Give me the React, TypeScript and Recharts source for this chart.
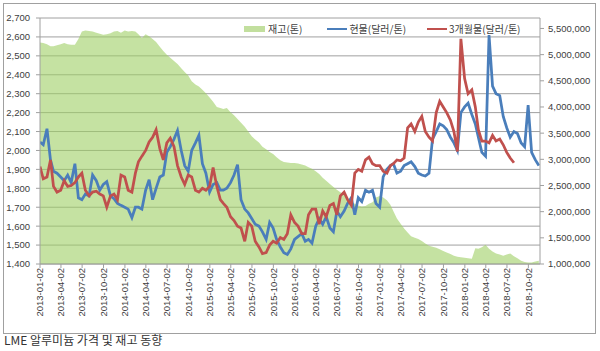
import React from "react";
import { ComposedChart, Area, Line, XAxis, YAxis, CartesianGrid } from "recharts";

// Half-month sample dates, 2013-01 .. 2018-11 (1st and 16th of each month)
const dates: string[] = [];
for (let m = 0; m < 71; m++) {
  const y = 2013 + Math.floor(m / 12);
  const mo = String((m % 12) + 1).padStart(2, "0");
  dates.push(`${y}-${mo}-${m === 0 ? "02" : "01"}`, `${y}-${mo}-16`);
}

// 현물 (USD/t)
const spot = [
  2045, 2030, 2115, 1950, 1890, 1880, 1860, 1840, 1870, 1830, 1930, 1750, 1740, 1770, 1760, 1870, 1840, 1790, 1820, 1835, 1760, 1745, 1720, 1710,
  1700, 1690, 1645, 1700, 1700, 1690, 1790, 1845, 1740, 1800, 1860, 1870, 1990, 2020, 2060, 2105, 2000, 1920, 1890, 2000, 2040, 2080, 1930, 1880,
  1780, 1820, 1830, 1790, 1790, 1800, 1830, 1870, 1925, 1740, 1690, 1670, 1640, 1610, 1600, 1570, 1530, 1620, 1590, 1530, 1490, 1460, 1450, 1480,
  1530, 1545, 1560, 1520, 1530, 1510, 1600, 1640, 1610, 1650, 1590, 1570, 1680, 1650, 1680, 1720, 1750, 1660, 1750, 1730, 1790, 1780, 1790, 1720,
  1700, 1860, 1900, 1920, 1930, 1880, 1890, 1920, 1930, 1940, 1915, 1880, 1870, 1865, 1880, 2060, 2100, 2140, 2130, 2110, 2070, 2040, 2000, 2200,
  2230, 2250, 2190, 2140, 2070, 1990, 1970, 2610, 2340, 2300, 2290, 2180, 2120, 2070, 2100, 2090, 2040, 2020, 2240, 1990, 1950, 1920,
];

// 3개월물 (USD/t)
const threeMonth = [
  1915, 1850, 1860, 1950, 1810, 1780, 1790, 1840, 1810, 1815, 1830, 1860, 1880, 1790, 1760, 1780, 1785, 1770, 1760, 1700, 1760, 1770, 1740, 1870,
  1860, 1790, 1780, 1880, 1940, 1970, 2000, 2045, 2070, 2110, 2010, 1950, 2040, 2065, 2020, 1920, 1860, 1820, 1870, 1860, 1790, 1780, 1800, 1790,
  1810, 1910, 1810, 1740, 1720, 1700, 1650, 1630, 1600, 1590, 1520, 1620, 1600, 1520, 1490, 1455, 1460, 1500, 1520, 1510, 1540, 1530, 1560, 1660,
  1620, 1600, 1560, 1560, 1660, 1690, 1690, 1610, 1680, 1650, 1710, 1720, 1660, 1760, 1780, 1740, 1710, 1880, 1900, 1890, 1950, 1965, 1930, 1920,
  1920, 1890, 1880, 1920, 1930, 1950, 1945, 1960, 2120, 2140, 2100, 2150, 2180, 2100, 2070, 2050, 2200, 2260, 2230, 2200, 2160, 2100, 1995, 2590,
  2380, 2300, 2320, 2230, 2110, 2050, 2050, 2040, 2080, 2050, 2060, 2030, 1990, 1960, 1935, null, null, null, null, null, null, null,
];

// 재고 (t)
const stock = [
  5230000, 5220000, 5200000, 5160000, 5160000, 5180000, 5200000, 5220000, 5200000, 5190000, 5190000, 5300000,
  5440000, 5460000, 5450000, 5440000, 5420000, 5400000, 5380000, 5390000, 5410000, 5440000, 5450000, 5420000,
  5460000, 5440000, 5450000, 5440000, 5390000, 5320000, 5390000, 5350000, 5300000, 5240000, 5150000, 5070000,
  5000000, 4940000, 4880000, 4820000, 4740000, 4670000, 4600000, 4490000, 4430000, 4390000, 4330000, 4260000,
  4180000, 4100000, 4000000, 3980000, 3960000, 3980000, 3900000, 3840000, 3770000, 3700000, 3620000, 3530000,
  3440000, 3380000, 3320000, 3240000, 3190000, 3140000, 3100000, 3040000, 2980000, 2950000, 2940000, 2930000,
  2930000, 2920000, 2900000, 2880000, 2850000, 2820000, 2770000, 2720000, 2650000, 2590000, 2530000, 2470000,
  2420000, 2370000, 2330000, 2260000, 2190000, 2150000, 2120000, 2100000, 2110000, 2150000, 2180000, 2270000,
  2300000, 2270000, 2220000, 2130000, 2010000, 1870000, 1770000, 1680000, 1600000, 1530000, 1500000, 1480000,
  1440000, 1390000, 1350000, 1330000, 1310000, 1280000, 1250000, 1220000, 1190000, 1160000, 1140000, 1130000,
  1120000, 1110000, 1100000, 1300000, 1290000, 1320000, 1370000, 1290000, 1240000, 1200000, 1180000, 1160000,
  1180000, 1200000, 1150000, 1110000, 1060000, 1040000, 1030000, 1030000, 1050000, 1060000,
];

const dateTicks = [
  "2013-01-02", "2013-04-02", "2013-07-02", "2013-10-02",
  "2014-01-02", "2014-04-02", "2014-07-02", "2014-10-02",
  "2015-01-02", "2015-04-02", "2015-07-02", "2015-10-02",
  "2016-01-02", "2016-04-02", "2016-07-02", "2016-10-02",
  "2017-01-02", "2017-04-02", "2017-07-02", "2017-10-02",
  "2018-01-02", "2018-04-02", "2018-07-02", "2018-10-02",
];
const priceTicks = [1400, 1500, 1600, 1700, 1800, 1900, 2000, 2100, 2200, 2300, 2400, 2500, 2600, 2700];
const stockTicks = [1000000, 1500000, 2000000, 2500000, 3000000, 3500000, 4000000, 4500000, 5000000, 5500000];

const toTime = (s: string) => Date.parse(s);

const rows = dates.map((d, i) => ({
  t: toTime(d),
  stock: stock[i],
  spot: spot[i],
  threeMonth: threeMonth[i],
}));

const NUM_FONT = "'Liberation Sans', Arial, sans-serif";
const KR_FONT = "'Noto Sans CJK KR', 'Noto Sans', sans-serif";
const AXIS = "#a0a0a0";
const TEXT = "#404040";

const fmt = (v: number) => v.toLocaleString("en-US");

function DateTick({ x, y, payload }: any) {
  const label = new Date(payload.value).toISOString().slice(0, 10);
  return (
    <text
      transform={`translate(${x},${y}) rotate(-90)`}
      textAnchor="end"
      dy="0.35em"
      fontSize={9.5}
      fontFamily={NUM_FONT}
      fill={TEXT}
    >
      {label}
    </text>
  );
}

function LegendBox() {
  const item = { display: "flex", alignItems: "center", marginRight: 18 } as const;
  return (
    <div
      style={{
        position: "absolute",
        left: 244,
        top: 22,
        display: "flex",
        fontFamily: KR_FONT,
        fontSize: 10,
        color: TEXT,
        lineHeight: "14px",
      }}
    >
      <div style={item}>
        <span style={{ width: 21, height: 6, background: "#c2df9e", marginRight: 3 }} />
        재고(톤)
      </div>
      <div style={{ ...item, marginLeft: 7 }}>
        <span style={{ width: 20, height: 2.5, background: "#4a7ebb", marginRight: 2 }} />
        현물(달러/톤)
      </div>
      <div style={{ ...item, marginLeft: 3 }}>
        <span style={{ width: 20, height: 2.5, background: "#c0504d", marginRight: 2 }} />
        3개월물(달러/톤)
      </div>
    </div>
  );
}

export default function App() {
  return (
    <div style={{ position: "absolute", left: 0, top: 0, width: 600, height: 351, background: "#fff" }}>
      <div
        style={{
          position: "absolute",
          left: 3,
          top: 3,
          width: 593,
          height: 331,
          border: `1px solid ${AXIS}`,
          boxSizing: "border-box",
        }}
      />
      <div style={{ position: "absolute", left: 0, top: 0 }}>
        <ComposedChart width={600} height={340} data={rows} margin={{ top: 18, right: 0, bottom: 0, left: 0 }}>
          <CartesianGrid yAxisId="left" vertical={false} stroke={AXIS} />
          <XAxis
            dataKey="t"
            type="number"
            domain={[toTime("2013-01-02"), toTime("2018-11-21")]}
            ticks={dateTicks.map(toTime)}
            interval={0}
            allowDataOverflow
            height={76}
            tickSize={4}
            tickMargin={0}
            stroke={AXIS}
            tick={<DateTick />}
          />
          <YAxis
            yAxisId="left"
            domain={[1400, 2700]}
            ticks={priceTicks}
            interval={0}
            width={40}
            tickSize={4}
            tickMargin={6}
            stroke={AXIS}
            tick={{ fontSize: 9.5, fill: TEXT, fontFamily: NUM_FONT }}
            tickFormatter={fmt}
          />
          <YAxis
            yAxisId="right"
            orientation="right"
            domain={[1000000, 5700000]}
            ticks={stockTicks}
            interval={0}
            width={60}
            tickSize={4}
            tickMargin={4}
            stroke={AXIS}
            tick={{ fontSize: 9.5, fill: TEXT, fontFamily: NUM_FONT }}
            tickFormatter={fmt}
          />
          <Area
            yAxisId="right"
            type="linear"
            dataKey="stock"
            fill="#9ecf64"
            fillOpacity={0.6}
            stroke="none"
            isAnimationActive={false}
          />
          <Line
            yAxisId="left"
            type="linear"
            dataKey="spot"
            stroke="#4a7ebb"
            strokeWidth={2.75}
            dot={false}
            isAnimationActive={false}
          />
          <Line
            yAxisId="left"
            type="linear"
            dataKey="threeMonth"
            stroke="#c0504d"
            strokeWidth={2.75}
            dot={false}
            isAnimationActive={false}
          />
        </ComposedChart>
      </div>
      <LegendBox />
      <div
        style={{
          position: "absolute",
          left: 4,
          top: 332,
          fontFamily: KR_FONT,
          fontSize: 12,
          lineHeight: "16px",
          color: "#333",
        }}
      >
        LME 알루미늄 가격 및 재고 동향
      </div>
    </div>
  );
}
